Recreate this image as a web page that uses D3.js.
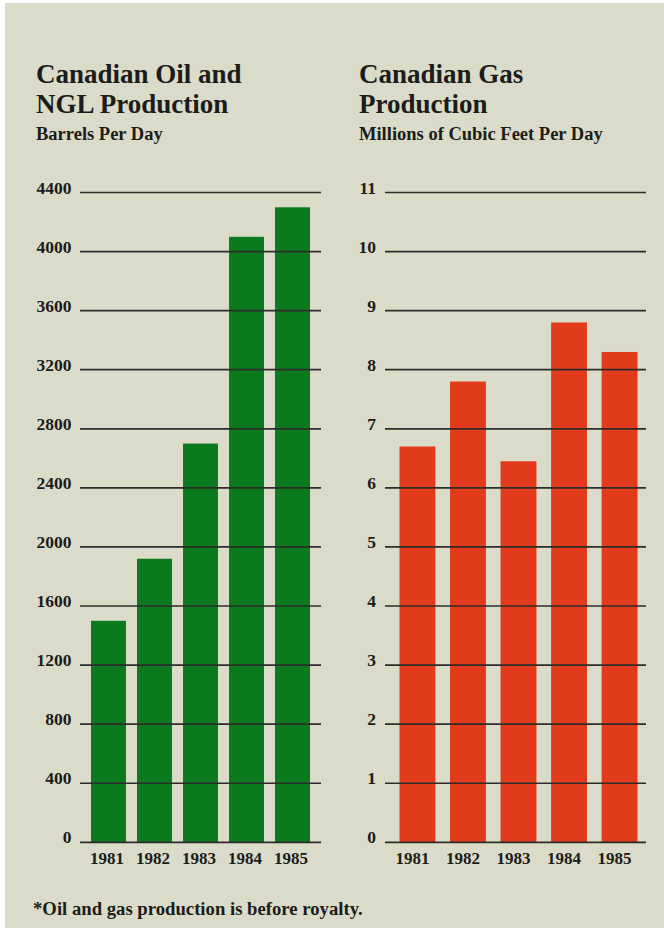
<!DOCTYPE html>
<html>
<head>
<meta charset="utf-8">
<script src="https://cdn.jsdelivr.net/npm/d3@7"></script>
<style>
  html, body { margin: 0; padding: 0; background: #ffffff; }
  svg { display: block; }
  text { font-family: "Liberation Serif", "Times New Roman", serif; font-weight: bold; fill: #1c1c1a; }
</style>
</head>
<body>
<script>
// Production data, 1981–1985
const years = ["1981", "1982", "1983", "1984", "1985"];
const oilValues = [1500, 1920, 2700, 4100, 4300];      // barrels per day
const gasValues = [6.7, 7.8, 6.45, 8.8, 8.3];          // millions of cubic feet per day
const oilTicks = [0, 400, 800, 1200, 1600, 2000, 2400, 2800, 3200, 3600, 4000, 4400];
const gasTicks = [0, 1, 2, 3, 4, 5, 6, 7, 8, 9, 10, 11];
const oilTitle = ["Canadian Oil and", "NGL Production"];
const gasTitle = ["Canadian Gas", "Production"];
const oilUnit = "Barrels Per Day";
const gasUnit = "Millions of Cubic Feet Per Day";
const footnote = "*Oil and gas production is before royalty.";

const W = 664, H = 928;
const svg = d3.select("body").append("svg").attr("width", W).attr("height", H);

// paper background
svg.append("rect").attr("x", 5).attr("y", 3).attr("width", W - 5).attr("height", H - 3)
  .attr("fill", "#dbdbc9");

const yTop = 192.5, yBottom = 842.3;

function panel(opts) {
  const g = svg.append("g");
  const x = d3.scaleBand().domain(years).range(opts.barRange).paddingInner(opts.pad).paddingOuter(0);
  const y = d3.scaleLinear().domain([0, opts.max]).range([yBottom, yTop]);

  // titles
  opts.title.forEach((t, i) => {
    g.append("text").attr("x", opts.titleX).attr("y", 83 + i * 30)
      .attr("font-size", 27).text(t);
  });
  g.append("text").attr("x", opts.titleX).attr("y", 139.5)
    .attr("font-size", 18.5).text(opts.unit);

  // bars
  g.append("g").selectAll("rect").data(opts.values).join("rect")
    .attr("x", (d, i) => x(years[i]))
    .attr("width", x.bandwidth())
    .attr("y", d => y(d))
    .attr("height", d => y(0) - y(d))
    .attr("fill", opts.color);

  // value axis: labels and rules drawn over the bars
  const axis = d3.axisLeft(y).tickValues(opts.ticks).tickFormat(d3.format("d"))
    .tickSize(0).tickPadding(0);
  const ag = g.append("g").attr("transform", `translate(${opts.labelRight},0)`).call(axis);
  ag.select(".domain").remove();
  ag.selectAll("text").attr("font-size", 17.5).attr("dy", "0").attr("y", 0.5)
    .attr("font-family", "Liberation Serif").attr("font-weight", "bold").attr("fill", "#1c1c1a");

  g.append("g").selectAll("line").data(opts.ticks).join("line")
    .attr("x1", opts.ruleRange[0]).attr("x2", opts.ruleRange[1])
    .attr("y1", d => y(d)).attr("y2", d => y(d))
    .attr("stroke", "#2c2c2a").attr("stroke-width", 1.7);

  // year labels
  const xa = d3.axisBottom(x).tickSize(0).tickPadding(0);
  const xg = g.append("g").attr("transform", `translate(${opts.yearShift},${yBottom})`).call(xa);
  xg.select(".domain").remove();
  xg.selectAll("text").attr("font-size", 17).attr("dy", "0").attr("y", 22)
    .attr("font-family", "Liberation Serif").attr("font-weight", "bold").attr("fill", "#1c1c1a");
}

panel({
  title: oilTitle, unit: oilUnit, titleX: 36,
  values: oilValues, ticks: oilTicks, max: 4400,
  barRange: [91, 310], pad: 0.24, color: "#0b7a1f",
  labelRight: 71.5, ruleRange: [80, 321], yearShift: -1.5
});

panel({
  title: gasTitle, unit: gasUnit, titleX: 359,
  values: gasValues, ticks: gasTicks, max: 11,
  barRange: [399.5, 637.5], pad: 0.29, color: "#e13b1c",
  labelRight: 376, ruleRange: [385, 646], yearShift: -5
});

svg.append("text").attr("x", 33).attr("y", 915).attr("font-size", 18.7).text(footnote);
</script>
</body>
</html>
